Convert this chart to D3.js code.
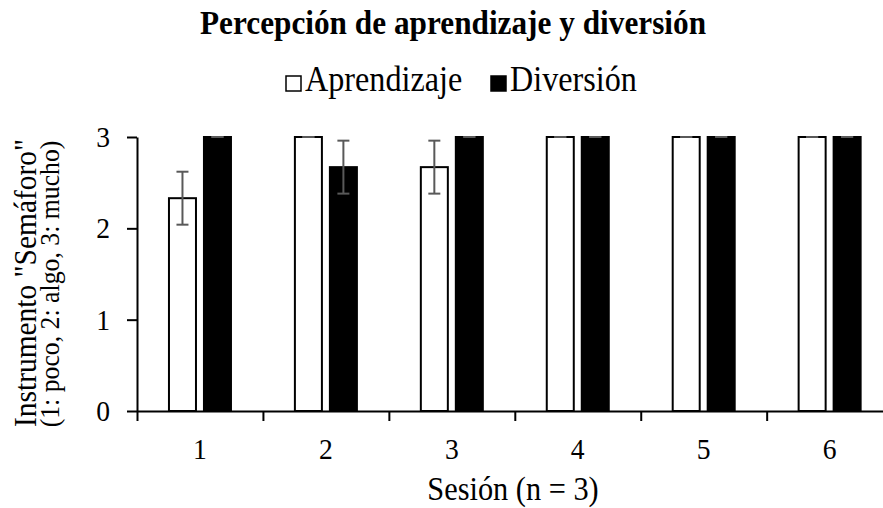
<!DOCTYPE html>
<html>
<head>
<meta charset="utf-8">
<script src="https://cdn.jsdelivr.net/npm/d3@7"></script>
<style>
  body { margin: 0; background: #fff; }
  svg { display: block; font-family: "Liberation Serif", "Times New Roman", serif; }
</style>
</head>
<body>
<div id="chartTarget"></div>
<script>
  // data
  const sessions = ['1', '2', '3', '4', '5', '6'];
  const aprendizaje = [2.33, 3, 2.67, 3, 3, 3];
  const diversion = [3, 2.67, 3, 3, 3, 3];
  const errAprendizaje = [0.29, 0, 0.29, 0, 0, 0];
  const errDiversion = [0, 0.29, 0, 0, 0, 0];
  const yTicks = [0, 1, 2, 3];
  const seriesNames = ['Aprendizaje', 'Diversión'];

  let width = 883;
  let height = 508;
  let plot = {left: 137, right: 892.6, top: 137, bottom: 411};
  let sx = 0.92; // glyphs in the picture are a bit narrow

  let svg = d3.select('#chartTarget').append('svg')
    .attr('width', width)
    .attr('height', height);

  let x = d3.scaleBand()
    .domain(sessions)
    .range([plot.left, plot.right])
    .padding(0);

  let xEdge = d3.scaleLinear()
    .domain([0, sessions.length])
    .range([plot.left, plot.right]);

  let x1 = d3.scaleBand()
    .domain(seriesNames)
    .range([-32, 32])
    .paddingInner(0.171);

  let y = d3.scaleLinear()
    .domain([0, 3])
    .range([plot.bottom, plot.top]);

  let rows = sessions.map((s, i) => [
    {s: s, key: 'Aprendizaje', v: aprendizaje[i], e: errAprendizaje[i]},
    {s: s, key: 'Diversión', v: diversion[i], e: errDiversion[i]}
  ]).flat();

  // bars
  svg.append('g').selectAll('rect')
    .data(rows)
    .enter().append('rect')
      .attr('x', d => x(d.s) + x.bandwidth() / 2 + x1(d.key) + 1)
      .attr('y', d => y(d.v))
      .attr('width', x1.bandwidth() - 2)
      .attr('height', d => y(0) - y(d.v))
      .attr('fill', d => d.key == 'Aprendizaje' ? '#fff' : '#000')
      .attr('stroke', '#000')
      .attr('stroke-width', 2);

  // error bars
  let err = svg.append('g')
    .attr('stroke', '#595959')
    .attr('stroke-width', 2);
  rows.forEach(d => {
    let cx = x(d.s) + x.bandwidth() / 2 + x1(d.key) + x1.bandwidth() / 2;
    let hi = d.v + d.e;
    let lo = d.v - d.e;
    err.append('line').attr('x1', cx).attr('x2', cx).attr('y1', y(hi)).attr('y2', y(lo));
    err.append('line').attr('x1', cx - 6).attr('x2', cx + 6).attr('y1', y(hi)).attr('y2', y(hi));
    err.append('line').attr('x1', cx - 6).attr('x2', cx + 6).attr('y1', y(lo)).attr('y2', y(lo));
  });

  // axes
  let yAxis = d3.axisLeft(y)
    .tickValues(yTicks)
    .tickSizeInner(10)
    .tickSizeOuter(0)
    .tickFormat(d3.format('d'));

  svg.append('g')
    .attr('class', 'y axis')
    .attr('transform', `translate(${plot.left},0)`)
    .call(yAxis);

  svg.append('g')
    .attr('class', 'x axis edges')
    .attr('transform', `translate(0,${plot.bottom})`)
    .call(d3.axisBottom(xEdge).tickValues(d3.range(sessions.length + 1)).tickSizeInner(10).tickSizeOuter(0).tickFormat(''));

  svg.append('g')
    .attr('class', 'x axis labels')
    .attr('transform', `translate(0,${plot.bottom})`)
    .call(d3.axisBottom(x).tickSize(0).tickPadding(27));

  svg.selectAll('.axis text')
    .style('font-family', '"Liberation Serif", serif')
    .style('font-size', '30px')
    .attr('fill', '#000');
  svg.selectAll('.y.axis text').attr('x', -27 / sx).attr('transform', `scale(${sx},1)`);
  svg.selectAll('.x.labels text').attr('transform', `scale(${sx},1)`);
  svg.selectAll('.axis line').style('stroke', '#000').style('stroke-width', 2);
  svg.selectAll('.axis .domain').style('stroke', '#000').style('stroke-width', 2);
  svg.selectAll('.x.labels .domain').style('display', 'none');

  function label(px, py, rot, size, txt, bold) {
    svg.append('text')
      .attr('transform', `translate(${px},${py}) rotate(${rot}) scale(${sx},1)`)
      .style('text-anchor', 'middle')
      .style('font-size', size + 'px')
      .style('font-weight', bold ? 'bold' : 'normal')
      .text(txt);
  }

  // title
  label(453, 34, 0, 34, 'Percepción de aprendizaje y diversión', true);

  // legend
  let legend = [
    {name: 'Aprendizaje', fill: '#fff', x: 285},
    {name: 'Diversión', fill: '#000', x: 490}
  ];
  legend.forEach(l => {
    svg.append('rect')
      .attr('x', l.x + 1).attr('y', 76)
      .attr('width', 15).attr('height', 15)
      .attr('fill', l.fill).attr('stroke', '#000').attr('stroke-width', 1.5);
    svg.append('text')
      .attr('transform', `translate(${l.x + 20},91) scale(${sx},1)`)
      .style('font-size', '35px')
      .text(l.name);
  });

  // axis titles
  label(513, 500, 0, 33, 'Sesión (n = 3)');
  label(36, 283, -90, 32, 'Instrumento "Semáforo"');
  label(59, 284, -90, 28, '(1: poco, 2: algo, 3: mucho)');
</script>
</body>
</html>
